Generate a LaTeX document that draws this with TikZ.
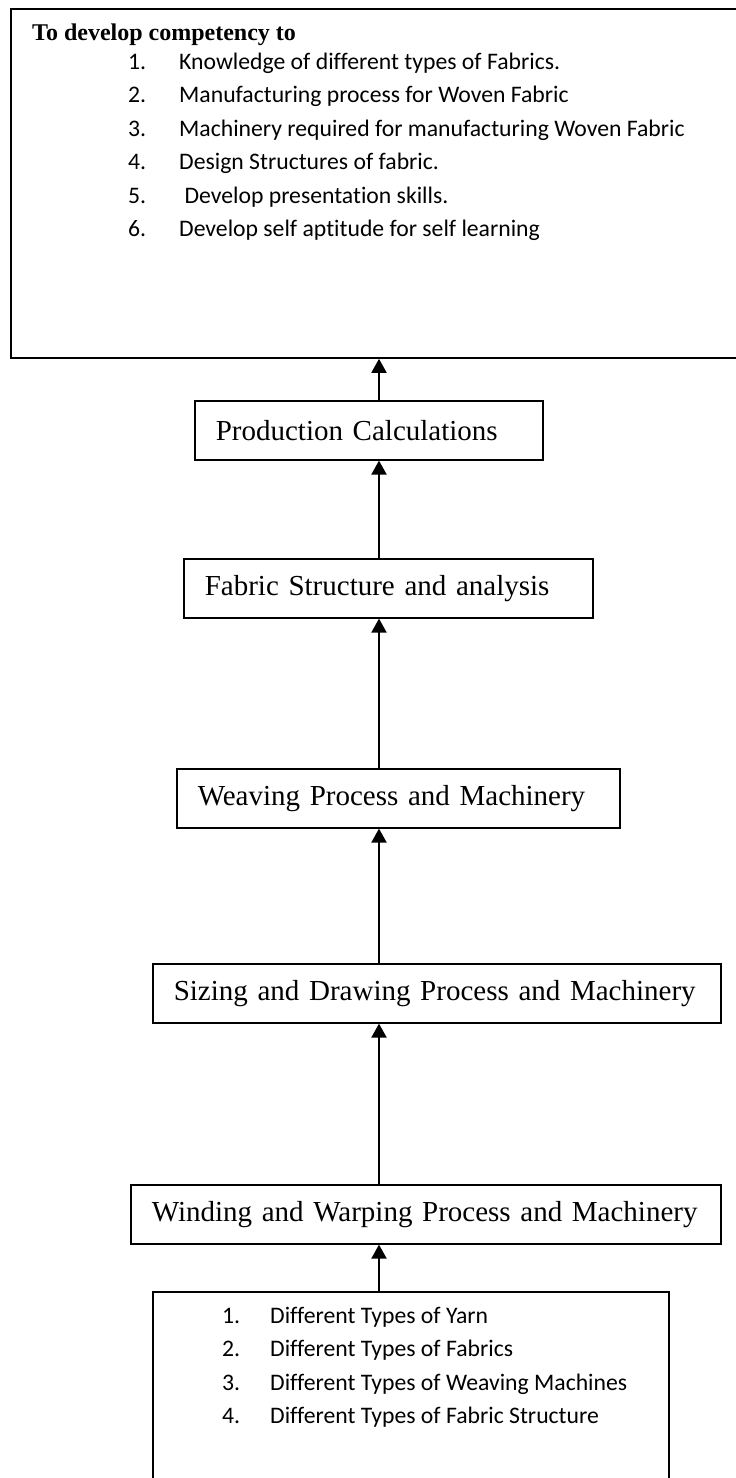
\documentclass[tikz,border=0pt]{standalone}
\usepackage{fontspec}
\setmainfont{Liberation Serif}
\newfontfamily\listfont[Ligatures=NoCommon]{Carlito}
\usetikzlibrary{arrows.meta}
\definecolor{framecolor}{HTML}{000000}

\begin{document}
\begin{tikzpicture}[x=1pt,y=-1pt,
    stage/.style={draw=framecolor,line width=1.6pt,anchor=north west,minimum height=59pt,
        inner xsep=21pt,inner ysep=0pt,align=left,font=\fontsize{29}{33}\selectfont},
    listbox/.style={draw=framecolor,line width=1.6pt,anchor=north west,inner sep=0pt},
    item/.style={anchor=base west,inner sep=0pt,font=\listfont\fontsize{23.7}{28}\selectfont},
    flow/.style={-{Triangle[length=14pt,width=15pt]},line width=2pt,framecolor}]
\useasboundingbox (0,0) rectangle (736,1478);
\clip (0,0) rectangle (736,1478);

% Goal box (runs off the right edge)
\node[listbox,line width=1.8pt,minimum width=740pt,minimum height=349pt] (goal) at (10,8) {};
\node[anchor=base west,inner sep=0pt,font=\bfseries\fontsize{24}{28}\selectfont] (goalhead) at (32,40) {To develop competency to};
\foreach \txt [count=\i] in {Knowledge of different types of Fabrics.,
    Manufacturing process for Woven Fabric,
    Machinery required for manufacturing Woven Fabric,
    Design Structures of fabric.,
    \ Develop presentation skills.,
    Develop self aptitude for self learning}
{
    \node[item] (goalnum\i) at (128,{69+33.5*(\i-1)}) {\i.};
    \node[item] (goaltxt\i) at (179,{69+33.5*(\i-1)}) {\txt};
}

% Process stages
\node[stage,text width=306pt] (prod) at (194,400) {\mbox{Production Calculations}};
\node[stage,text width=367pt] (fabric) at (183,558) {\mbox{Fabric Structure and analysis}};
\node[stage,text width=401pt] (weaving) at (176,768) {\mbox{Weaving Process and Machinery}};
\node[stage,text width=526pt] (sizing) at (152,963) {\mbox{Sizing and Drawing Process and Machinery}};
\node[stage,text width=548pt] (winding) at (130,1184) {\mbox{Winding and Warping Process and Machinery}};

% Basics box (runs off the bottom edge)
\node[listbox,minimum width=516pt,minimum height=220pt] (basics) at (152,1291) {};
\foreach \txt [count=\i] in {Different Types of Yarn,
    Different Types of Fabrics,
    Different Types of Weaving Machines,
    Different Types of Fabric Structure}
{
    \node[item] (basicnum\i) at (222,{1323+33.5*(\i-1)}) {\i.};
    \node[item] (basictxt\i) at (270,{1323+33.5*(\i-1)}) {\txt};
}

% Arrows up the middle
\coordinate (spine) at (379,0);
\draw[flow] (prod.north -| spine) -- (goal.south -| spine);
\draw[flow] (fabric.north -| spine) -- (prod.south -| spine);
\draw[flow] (weaving.north -| spine) -- (fabric.south -| spine);
\draw[flow] (sizing.north -| spine) -- (weaving.south -| spine);
\draw[flow] (winding.north -| spine) -- (sizing.south -| spine);
\draw[flow] (basics.north -| spine) -- (winding.south -| spine);
\end{tikzpicture}
\end{document}
